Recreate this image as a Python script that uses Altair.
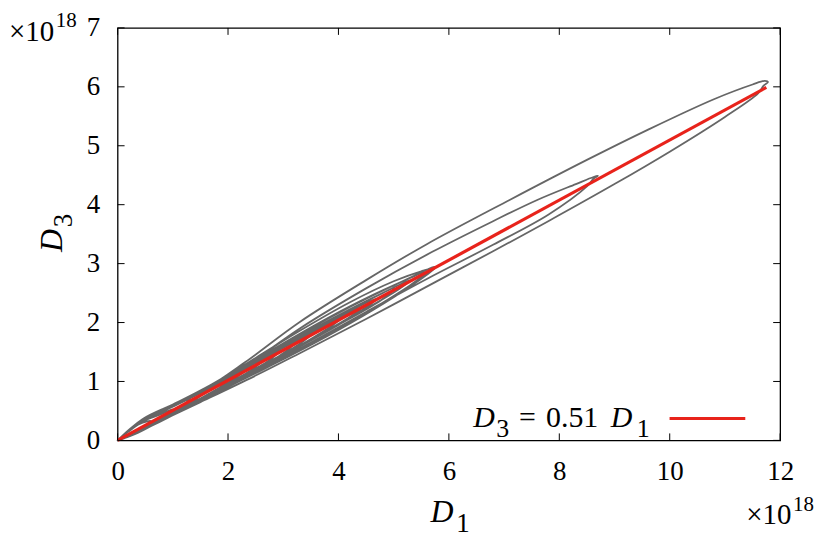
import altair as alt
import pandas as pd

# ---- data ----
# tick positions (units of 1e18)
x_ticks = [0, 2, 4, 6, 8, 10, 12]
y_ticks = [0, 1, 2, 3, 4, 5, 6, 7]

# fitted line D3 = 0.51 D1
fit_d1 = [0.0, 11.75]
fit_d3 = [0.0, 5.99]

# gray trajectory: successive loops (D1, D3) in units of 1e18
loop_r_d1 = [0, 0.2, 0.4, 0.6, 0.45, 0.2, 0]
loop_r_d3 = [0, 0.15, 0.28, 0.33, 0.22, 0.09, 0]
loop_k_d1 = [0, 0.25, 0.5, 0.8, 1.0, 0.8, 0.4, 0]
loop_k_d3 = [0, 0.19, 0.34, 0.45, 0.53, 0.39, 0.18, 0]
loop_s_d1 = [0, 0.3, 0.7, 1.3, 1.1, 0.6, 0.3, 0]
loop_s_d3 = [0, 0.25, 0.45, 0.70, 0.52, 0.24, 0.10, 0]
loop_j_d1 = [0, 0.3, 0.6, 1.1, 1.6, 1.4, 0.9, 0.4, 0]
loop_j_d3 = [0, 0.23, 0.40, 0.62, 0.84, 0.69, 0.43, 0.18, 0]
loop_t_d1 = [0, 0.45, 1.0, 1.5, 2.0, 1.8, 1.2, 0.6, 0]
loop_t_d3 = [0, 0.35, 0.61, 0.82, 1.05, 0.86, 0.53, 0.24, 0]
loop_i_d1 = [0, 0.45, 1.0, 1.7, 2.3, 2.1, 1.5, 0.8, 0]
loop_i_d3 = [0, 0.33, 0.58, 0.90, 1.18, 1.04, 0.71, 0.37, 0]
loop_q_d1 = [0, 0.45, 1.0, 1.7, 2.6, 2.4, 1.6, 0.8, 0]
loop_q_d3 = [0, 0.35, 0.60, 0.92, 1.34, 1.18, 0.76, 0.36, 0]
loop_h_d1 = [0, 0.45, 1.0, 1.7, 2.4, 2.9, 2.7, 2.0, 1.3, 0.6, 0]
loop_h_d3 = [0, 0.34, 0.59, 0.92, 1.26, 1.49, 1.33, 0.96, 0.60, 0.27, 0]
loop_o_d1 = [0, 0.45, 1.0, 1.7, 2.5, 3.2, 3.0, 2.3, 1.5, 0.7, 0]
loop_o_d3 = [0, 0.35, 0.60, 0.93, 1.34, 1.65, 1.48, 1.10, 0.70, 0.31, 0]
loop_g_d1 = [0, 0.45, 1.0, 1.7, 2.5, 3.1, 3.5, 3.3, 2.6, 1.8, 1.0, 0.4, 0]
loop_g_d3 = [0, 0.36, 0.61, 0.93, 1.33, 1.62, 1.80, 1.64, 1.26, 0.85, 0.45, 0.17, 0]
loop_f_d1 = [0, 0.45, 1.0, 1.7, 2.5, 3.3, 4.1, 3.9, 3.1, 2.3, 1.5, 0.8, 0]
loop_f_d3 = [0, 0.35, 0.60, 0.92, 1.34, 1.74, 2.11, 1.96, 1.50, 1.09, 0.70, 0.37, 0]
loop_m_d1 = [0, 0.45, 1.0, 1.7, 2.5, 3.3, 3.9, 4.4, 4.2, 3.5, 2.7, 1.9, 1.1, 0.5, 0]
loop_m_d3 = [0, 0.32, 0.57, 0.90, 1.31, 1.72, 2.01, 2.25, 2.09, 1.71, 1.29, 0.89, 0.50, 0.22, 0]
loop_e_d1 = [0, 0.45, 1.0, 1.7, 2.5, 3.3, 4.1, 4.7, 4.5, 3.8, 3.0, 2.2, 1.4, 0.7, 0]
loop_e_d3 = [0, 0.34, 0.59, 0.91, 1.33, 1.75, 2.14, 2.41, 2.26, 1.87, 1.45, 1.04, 0.65, 0.32, 0]
loop_n_d1 = [0, 0.45, 1.0, 1.7, 2.5, 3.3, 4.2, 5.0, 4.8, 4.0, 3.0, 2.0, 1.2, 0.5, 0]
loop_n_d3 = [0, 0.33, 0.58, 0.91, 1.34, 1.76, 2.21, 2.58, 2.40, 1.96, 1.44, 0.93, 0.54, 0.22, 0]
loop_d_d1 = [0, 0.45, 1.0, 1.7, 2.5, 3.3, 4.2, 4.8, 5.3, 5.1, 4.4, 3.5, 2.6, 1.8, 1.0, 0.45, 0]
loop_d_d3 = [0, 0.35, 0.60, 0.93, 1.35, 1.77, 2.22, 2.50, 2.72, 2.57, 2.18, 1.70, 1.24, 0.85, 0.46, 0.21, 0]
loop_l_d1 = [0, 0.45, 1.0, 1.7, 2.5, 3.3, 4.2, 5.0, 5.55, 5.4, 4.6, 3.7, 2.8, 1.9, 1.0, 0.45, 0]
loop_l_d3 = [0, 0.36, 0.61, 0.93, 1.37, 1.81, 2.27, 2.63, 2.84, 2.70, 2.22, 1.74, 1.29, 0.86, 0.44, 0.19, 0]
loop_p_d1 = [0, 0.45, 1.0, 1.7, 2.5, 3.3, 4.2, 5.0, 5.5, 5.65, 5.5, 4.8, 3.9, 3.0, 2.1, 1.2, 0.5, 0]
loop_p_d3 = [0, 0.36, 0.61, 0.95, 1.40, 1.86, 2.34, 2.70, 2.87, 2.90, 2.76, 2.33, 1.84, 1.39, 0.96, 0.53, 0.21, 0]
loop_c_d1 = [0, 0.45, 1.0, 1.7, 2.5, 3.3, 4.2, 5.0, 5.5, 5.72, 5.76, 5.6, 5.0, 4.2, 3.3, 2.5, 1.7, 1.0, 0.45, 0]
loop_c_d3 = [0, 0.34, 0.59, 0.92, 1.36, 1.80, 2.26, 2.63, 2.85, 2.94, 2.94, 2.81, 2.43, 1.98, 1.52, 1.14, 0.77, 0.44, 0.20, 0]
loop_b_d1 = [0, 0.45, 1.0, 1.7, 2.5, 3.3, 4.5, 5.7, 6.8, 7.6, 8.3, 8.62, 8.70, 8.62, 8.5, 7.8, 6.8, 5.6, 4.5, 3.3, 2.3, 1.4, 0.7, 0]
loop_b_d3 = [0, 0.35, 0.60, 0.92, 1.38, 1.90, 2.58, 3.20, 3.72, 4.08, 4.35, 4.47, 4.49, 4.44, 4.31, 3.83, 3.32, 2.74, 2.18, 1.56, 1.07, 0.63, 0.31, 0]
loop_a_d1 = [0, 0.2, 0.45, 1.0, 1.6, 2.3, 3.3, 4.5, 5.6, 7.1, 8.5, 9.6, 10.8, 11.5, 11.72, 11.78, 11.7, 11.6, 11.0, 10.0, 9.0, 7.8, 6.8, 5.6, 4.5, 3.3, 2.5, 1.5, 0.8, 0.3, 0]
loop_a_d3 = [0, 0.16, 0.36, 0.61, 0.88, 1.32, 2.01, 2.72, 3.33, 4.08, 4.76, 5.27, 5.79, 6.04, 6.10, 6.08, 6.02, 5.89, 5.49, 4.90, 4.35, 3.72, 3.21, 2.61, 2.06, 1.48, 1.10, 0.65, 0.34, 0.12, 0]

loops = [
    (loop_r_d1, loop_r_d3), (loop_k_d1, loop_k_d3), (loop_s_d1, loop_s_d3),
    (loop_j_d1, loop_j_d3), (loop_t_d1, loop_t_d3),
    (loop_i_d1, loop_i_d3), (loop_q_d1, loop_q_d3), (loop_h_d1, loop_h_d3),
    (loop_o_d1, loop_o_d3), (loop_g_d1, loop_g_d3), (loop_f_d1, loop_f_d3),
    (loop_m_d1, loop_m_d3), (loop_e_d1, loop_e_d3), (loop_n_d1, loop_n_d3),
    (loop_d_d1, loop_d_d3), (loop_l_d1, loop_l_d3), (loop_p_d1, loop_p_d3),
    (loop_c_d1, loop_c_d3), (loop_b_d1, loop_b_d3), (loop_a_d1, loop_a_d3),
]

rows = []
k = 0
for xs, ys in loops:
    for a, b in zip(xs, ys):
        rows.append({"d1": a, "d3": b, "i": k})
        k += 1
traj = pd.DataFrame(rows)
fit = pd.DataFrame({"d1": fit_d1, "d3": fit_d3})
xt = pd.DataFrame({"v": x_ticks})
yt = pd.DataFrame({"v": y_ticks})

W, H = 665, 414
FONT = "Liberation Serif"

xscale = alt.Scale(domain=[0, 12], nice=False, zero=False)
yscale = alt.Scale(domain=[0, 7], nice=False, zero=False)

xaxis = alt.Axis(values=x_ticks, title=None, grid=False, ticks=False, domain=False,
                 labelFont=FONT, labelFontSize=27, labelColor="black", labelPadding=18,
                 labelFlush=False)
yaxis = alt.Axis(values=y_ticks, title=None, grid=False, ticks=False, domain=False,
                 labelFont=FONT, labelFontSize=27, labelColor="black", labelPadding=18,
                 labelFlush=False)

gray = alt.Chart(traj).mark_line(color="#666666", strokeWidth=1.8,
                                 interpolate="catmull-rom").encode(
    x=alt.X("d1:Q", scale=xscale, axis=xaxis),
    y=alt.Y("d3:Q", scale=yscale, axis=yaxis),
    order="i:Q",
)

red = alt.Chart(fit).mark_line(color="#e8231b", strokeWidth=3.2).encode(
    x=alt.X("d1:Q", scale=xscale, axis=xaxis),
    y=alt.Y("d3:Q", scale=yscale, axis=yaxis),
)

tick_len = 7
xt_bottom = alt.Chart(xt).mark_rule(color="black", strokeWidth=1).encode(
    x=alt.X("v:Q", scale=xscale, axis=xaxis), y=alt.value(H), y2=alt.value(H - tick_len))
xt_top = alt.Chart(xt).mark_rule(color="black", strokeWidth=1).encode(
    x=alt.X("v:Q", scale=xscale, axis=xaxis), y=alt.value(0), y2=alt.value(tick_len))
yt_left = alt.Chart(yt).mark_rule(color="black", strokeWidth=1).encode(
    y=alt.Y("v:Q", scale=yscale, axis=yaxis), x=alt.value(0), x2=alt.value(tick_len))
yt_right = alt.Chart(yt).mark_rule(color="black", strokeWidth=1).encode(
    y=alt.Y("v:Q", scale=yscale, axis=yaxis), x=alt.value(W), x2=alt.value(W - tick_len))

one = pd.DataFrame({"a": [0]})


def txt(s, x, y, size, italic=False, angle=0):
    kw = dict(font=FONT, fontSize=size, color="black", align="left", baseline="alphabetic")
    if italic:
        kw["fontStyle"] = "italic"
    if angle:
        kw["angle"] = angle
    return alt.Chart(one).mark_text(**kw).encode(
        x=alt.value(x), y=alt.value(y), text=alt.value(s))


texts = [
    # x-axis title D_1
    txt("D", 314, 496, 32, italic=True),
    txt("1", 340, 506, 27),
    # y-axis title D_3 (rotated)
    txt("D", -56, 225, 32, italic=True, angle=270),
    txt("3", -46, 200, 27, angle=270),
    # exponent labels
    txt("×10", -109, 13, 29),
    txt("18", -62, -1, 21),
    txt("×10", 631, 498, 29),
    txt("18", 678, 485, 21),
    # legend
    txt("D", 357, 401, 30, italic=True),
    txt("3", 380, 411, 26),
    txt("=", 403, 401, 30),
    txt("0.51", 430, 401, 30),
    txt("D", 495, 401, 30, italic=True),
    txt("1", 521, 411, 26),
]

legend_line = alt.Chart(one).mark_rule(color="#e8231b", strokeWidth=3.2).encode(
    x=alt.value(554), x2=alt.value(630), y=alt.value(392))

chart = alt.layer(gray, red, xt_bottom, xt_top, yt_left, yt_right, legend_line, *texts).properties(
    width=W, height=H,
    padding={"left": 110, "top": 19, "right": 42, "bottom": 100},
    autosize=alt.AutoSizeParams(type="none"),
).configure(
    background="white",
    view=alt.ViewConfig(stroke="black", strokeWidth=1.3),
)

chart.save("out.html", embed_options={"renderer": "svg", "actions": False})
